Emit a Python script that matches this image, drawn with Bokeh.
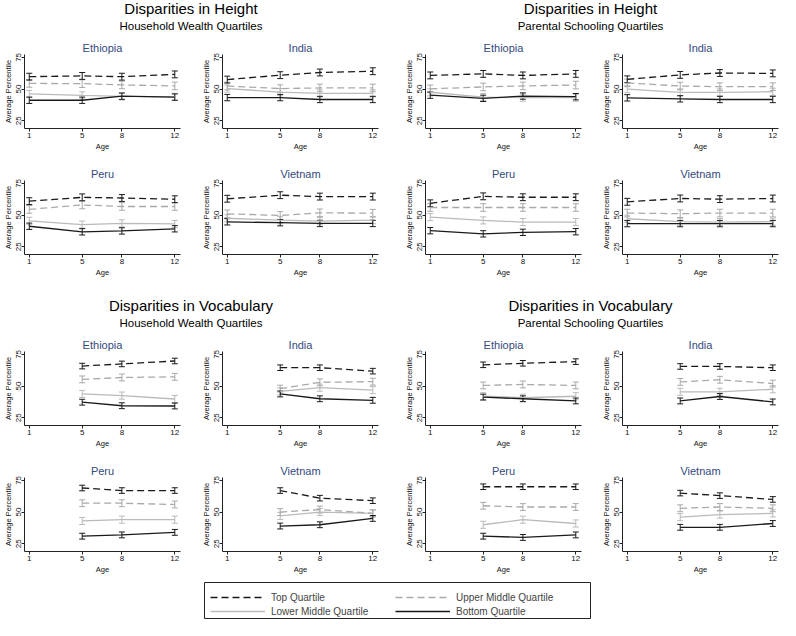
from bokeh.plotting import figure
from bokeh.models import (Range1d, FixedTicker, ColumnDataSource, Whisker, TeeHead,
                          Div, Spacer, Legend, LegendItem)
from bokeh.layouts import row, column
from bokeh.embed import file_html
from bokeh.resources import INLINE

# ---------------- data ----------------
AGES_HEIGHT = [1, 5, 8, 12]
AGES_VOCAB = [5, 8, 12]
X_TICKS = [1, 5, 8, 12]
Y_TICKS = [25, 50, 75]
COUNTRIES = ["Ethiopia", "India", "Peru", "Vietnam"]
QUARTILES = ["Top Quartile", "Upper Middle Quartile", "Lower Middle Quartile", "Bottom Quartile"]

# each panel: [top, upper middle, lower middle, bottom] average percentile by age
height_wealth_ethiopia = [[59.8, 60.4, 59.8, 61.6], [54.5, 54.3, 53.3, 52.5], [46.2, 45.0, 44.2, 43.9], [41.2, 41.2, 44.4, 43.7]]
height_wealth_india = [[57.5, 61.0, 63.1, 64.1], [52.4, 50.4, 50.9, 50.9], [50.4, 47.6, 46.6, 46.6], [43.3, 43.3, 41.8, 41.8]]
height_wealth_peru = [[61.0, 64.0, 63.5, 62.5], [54.5, 58.0, 56.8, 56.8], [45.5, 42.5, 43.5, 43.0], [41.2, 36.8, 37.5, 39.2]]
height_wealth_vietnam = [[62.9, 65.7, 64.6, 64.6], [51.0, 49.7, 51.8, 51.5], [47.5, 46.0, 45.2, 46.0], [44.7, 44.0, 43.4, 43.4]]

height_school_ethiopia = [[60.8, 62.0, 60.8, 62.0], [50.2, 51.7, 52.5, 53.2], [47.5, 43.7, 43.2, 43.2], [45.2, 42.7, 44.5, 44.0]]
height_school_india = [[57.7, 61.2, 62.7, 62.4], [54.9, 52.4, 51.9, 51.9], [49.9, 47.4, 47.4, 47.9], [43.1, 42.3, 41.8, 41.8]]
height_school_peru = [[59.3, 64.8, 64.1, 64.1], [56.0, 56.0, 56.0, 56.0], [48.4, 45.8, 44.5, 44.5], [37.7, 35.2, 36.4, 36.9]]
height_school_vietnam = [[60.5, 63.1, 62.6, 63.1], [51.6, 51.1, 51.6, 51.6], [47.1, 44.8, 44.5, 44.8], [43.3, 43.3, 43.3, 43.3]]

vocab_wealth_ethiopia = [[65.8, 67.5, 69.8], [55.3, 56.8, 57.3], [43.8, 42.5, 39.8], [37.3, 34.5, 34.3]]
vocab_wealth_india = [[64.5, 64.5, 61.8], [48.0, 53.0, 53.5], [45.8, 48.8, 46.8], [43.8, 40.0, 38.8]]
vocab_wealth_peru = [[69.0, 67.0, 67.0], [57.0, 57.0, 56.0], [43.0, 44.0, 44.0], [31.0, 32.0, 34.0]]
vocab_wealth_vietnam = [[67.0, 61.0, 59.0], [50.0, 52.0, 49.0], [47.0, 50.0, 49.0], [39.0, 40.0, 45.0]]

vocab_school_ethiopia = [[66.8, 68.0, 69.3], [50.5, 51.3, 50.5], [42.0, 40.8, 42.0], [41.3, 40.0, 38.3]]
vocab_school_india = [[65.5, 65.5, 64.5], [53.3, 55.0, 52.0], [45.5, 45.5, 47.5], [38.3, 41.8, 37.5]]
vocab_school_peru = [[70.0, 70.0, 70.0], [55.0, 54.0, 54.0], [40.0, 44.0, 41.0], [31.0, 30.0, 32.0]]
vocab_school_vietnam = [[65.0, 63.0, 60.0], [53.0, 54.0, 53.0], [46.0, 48.0, 49.0], [38.0, 38.0, 41.0]]

# 95% CI half-widths per quartile (approximate)
ci_height = [2.7, 3.0, 2.8, 2.5]
ci_vocab = [2.2, 2.7, 2.8, 2.3]

# ---------------- style ----------------
FONT = "Liberation Sans"
NAVY = "#34497e"
STYLES = [
    dict(color="#1a1a1a", dash="7 4"),
    dict(color="#a9a9a9", dash="7 4"),
    dict(color="#bababa", dash="solid"),
    dict(color="#1a1a1a", dash="solid"),
]
COL_W = [198, 203, 197, 182]
COL_RB = [18, 23, 17, 2]
LEFT_B = 22


def panel(country, series, ages, ci, ci_idx, height, bottom):
    p = figure(width=COL_W[ci_idx], height=height,
               x_range=Range1d(0.64, 12.43), y_range=Range1d(18.9, 77.3),
               output_backend="svg", toolbar_location=None,
               min_border_left=LEFT_B, min_border_right=COL_RB[ci_idx],
               min_border_top=14, min_border_bottom=bottom)
    p.title.text = country
    p.title.align = "center"
    p.title.text_font = FONT
    p.title.text_font_size = "11px"
    p.title.text_font_style = "normal"
    p.title.text_color = NAVY
    p.title.standoff = 2
    p.outline_line_color = None
    p.grid.visible = False
    p.background_fill_color = "white"
    p.border_fill_color = "white"

    for ax in (p.xaxis[0], p.yaxis[0]):
        ax.axis_line_color = "#222222"
        ax.major_tick_line_color = "#222222"
        ax.minor_tick_line_color = None
        ax.major_tick_in = 0
        ax.major_tick_out = 3
        ax.major_label_text_font = FONT
        ax.major_label_text_font_size = "8px"
        ax.major_label_text_color = "#111111"
        ax.axis_label_text_font = FONT
        ax.axis_label_text_font_size = "7.5px"
        ax.axis_label_text_font_style = "normal"
        ax.axis_label_text_color = "#111111"
    p.xaxis.ticker = FixedTicker(ticks=X_TICKS)
    p.yaxis.ticker = FixedTicker(ticks=Y_TICKS)
    p.xaxis.axis_label = "Age"
    p.yaxis.axis_label = "Average Percentile"
    p.xaxis.major_label_standoff = 1
    p.xaxis.axis_label_standoff = 1
    p.yaxis.major_label_standoff = 0
    p.yaxis.axis_label_standoff = 1
    p.yaxis.major_label_orientation = "vertical"

    order = [2, 1, 3, 0]
    for k in order:
        st = STYLES[k]
        vals = series[k]
        src = ColumnDataSource(dict(x=ages, y=vals,
                                    lo=[v - ci[k] for v in vals],
                                    hi=[v + ci[k] for v in vals]))
        p.line("x", "y", source=src, line_color=st["color"], line_dash=st["dash"], line_width=1.3)
        w = Whisker(source=src, base="x", upper="hi", lower="lo",
                    line_color=st["color"], line_width=1,
                    upper_head=TeeHead(size=6, line_color=st["color"], line_width=1),
                    lower_head=TeeHead(size=6, line_color=st["color"], line_width=1))
        p.add_layout(w)
    return p


def header(title, subtitle, width, pad_right):
    html = ('<div style="width:%dpx;text-align:center;font-family:\'Liberation Sans\',Arial,sans-serif;color:#000;">'
            '<div style="font-size:15px;line-height:18px;">%s</div>'
            '<div style="font-size:11.5px;line-height:14px;margin-top:1px;">%s</div></div>'
            % (width - pad_right, title, subtitle))
    return Div(text=html, width=width, height=38, margin=0)


def block(title, subtitle, panels_data, ages, ci, col0, pad_right, bottom_last):
    w = COL_W[col0] + COL_W[col0 + 1]
    figs = []
    for i, (country, data) in enumerate(zip(COUNTRIES, panels_data)):
        r = i // 2
        c = col0 + i % 2
        bottom = 36 if r == 0 else bottom_last
        h = 126 if r == 0 else 126 - (36 - bottom_last)
        figs.append(panel(country, data, ages, ci, c, h, bottom))
    return column(header(title, subtitle, w, pad_right),
                  row(figs[0], figs[1]), row(figs[2], figs[3]))


height_wealth = [height_wealth_ethiopia, height_wealth_india, height_wealth_peru, height_wealth_vietnam]
height_school = [height_school_ethiopia, height_school_india, height_school_peru, height_school_vietnam]
vocab_wealth = [vocab_wealth_ethiopia, vocab_wealth_india, vocab_wealth_peru, vocab_wealth_vietnam]
vocab_school = [vocab_school_ethiopia, vocab_school_india, vocab_school_peru, vocab_school_vietnam]

top_sec = row(
    block("Disparities in Height", "Household Wealth Quartiles", height_wealth, AGES_HEIGHT, ci_height, 0, 19, 36),
    block("Disparities in Height", "Parental Schooling Quartiles", height_school, AGES_HEIGHT, ci_height, 2, 0, 36),
)
bot_sec = row(
    block("Disparities in Vocabulary", "Household Wealth Quartiles", vocab_wealth, AGES_VOCAB, ci_vocab, 0, 19, 30),
    block("Disparities in Vocabulary", "Parental Schooling Quartiles", vocab_school, AGES_VOCAB, ci_vocab, 2, 0, 30),
)

# legend: boxed, two columns. The sample renderers reuse one panel's data,
# which lies outside this box's (0..1) ranges, so only the legend glyphs show.
lg = figure(width=388, height=38, output_backend="svg", toolbar_location=None,
            x_range=Range1d(0, 1), y_range=Range1d(0, 1), x_axis_type=None, y_axis_type=None,
            min_border=1)
lg.grid.visible = False
lg.outline_line_color = "#222222"
lg.outline_line_width = 1
rends = []
for k, st in enumerate(STYLES):
    rends.append(lg.line(AGES_HEIGHT, height_wealth_ethiopia[k], line_color=st["color"],
                         line_dash=st["dash"], line_width=1.3))


def make_legend(idx, x):
    return Legend(items=[LegendItem(label=QUARTILES[i], renderers=[rends[i]]) for i in idx],
                  orientation="vertical", location=(x, 1),
                  border_line_color=None, background_fill_alpha=0,
                  label_text_font=FONT, label_text_font_size="10px",
                  glyph_width=55, glyph_height=12, label_height=12, label_standoff=6,
                  spacing=2, padding=4, margin=0)


lg.add_layout(make_legend([0, 2], 6), "center")
lg.add_layout(make_legend([1, 3], 191), "center")

page = column(top_sec, Spacer(height=7), bot_sec, row(Spacer(width=203), lg))

open("out.html", "w").write(file_html(page, INLINE))
